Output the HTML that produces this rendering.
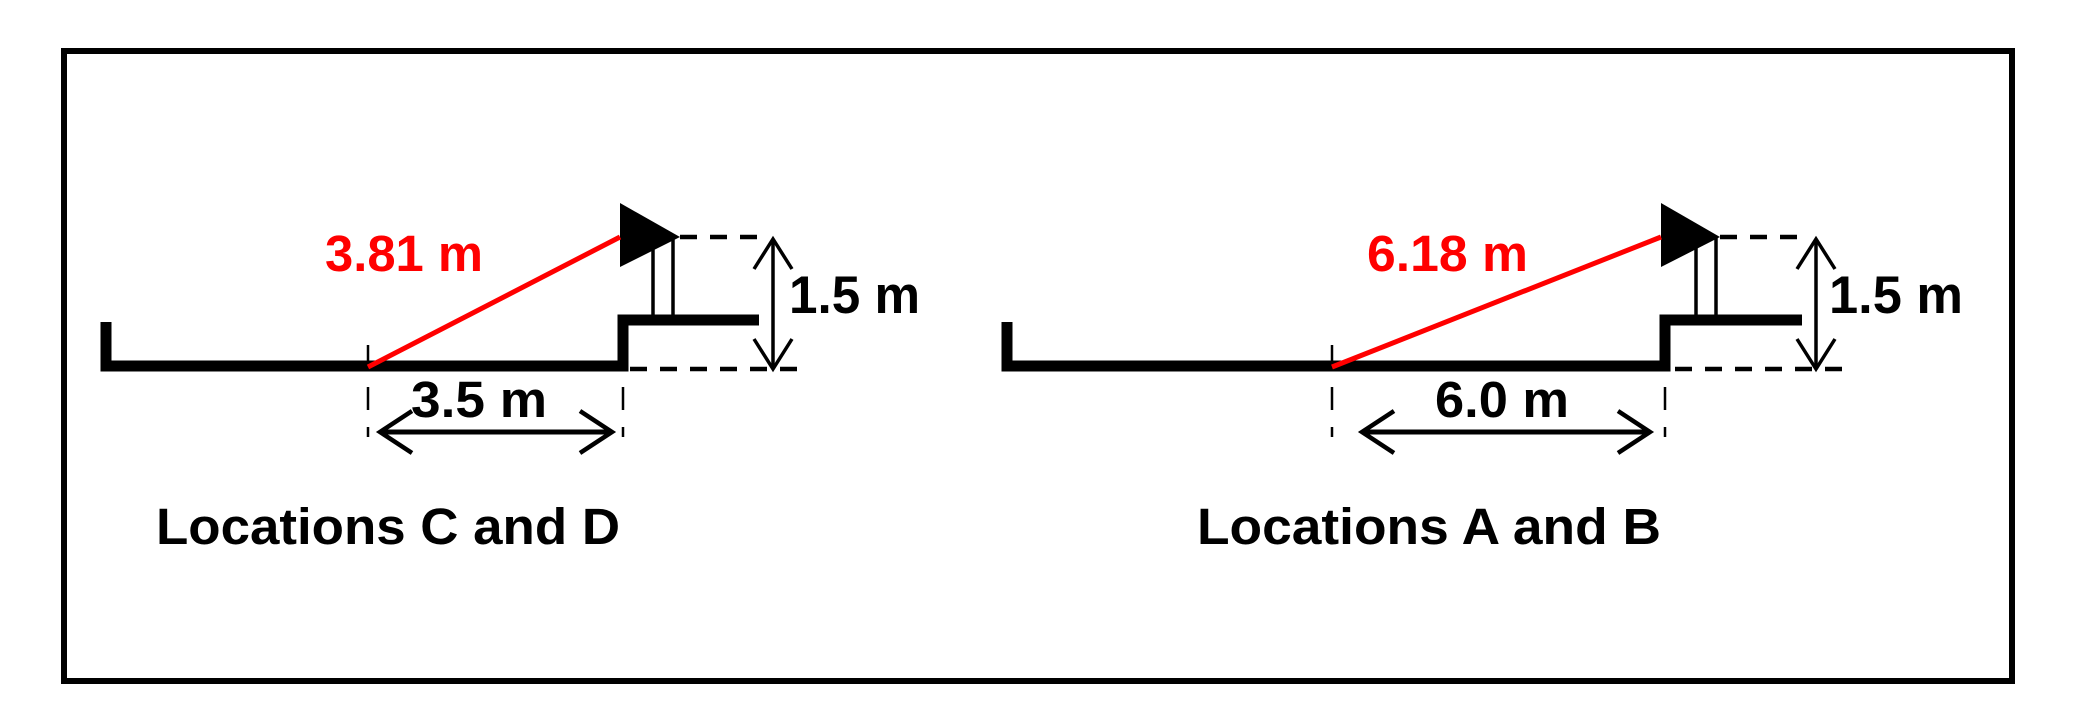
<!DOCTYPE html>
<html><head><style>html,body{margin:0;padding:0;background:#fff}svg{display:block}</style></head><body>
<svg width="2075" height="721" viewBox="0 0 2075 721" xmlns="http://www.w3.org/2000/svg" font-family="Liberation Sans, Arial, sans-serif" font-weight="bold">
<rect x="64" y="51" width="1948" height="630" fill="none" stroke="#000" stroke-width="6"/>
<g stroke="#000" fill="none">
<!-- left panel -->
<polyline points="106,322 106,366 623,366 623,320 759,320" stroke-width="11"/>
<line x1="653" y1="238" x2="653" y2="320" stroke-width="3.5"/>
<line x1="673" y1="238" x2="673" y2="320" stroke-width="3.5"/>
<line x1="368" y1="345" x2="368" y2="366" stroke-width="2.5"/>
<line x1="680" y1="237" x2="763" y2="237" stroke-width="4.5" stroke-dasharray="17,13"/>
<line x1="630" y1="369" x2="809" y2="369" stroke-width="4.5" stroke-dasharray="17,13"/>
<line x1="773" y1="239" x2="773" y2="369" stroke-width="3.5"/>
<polyline points="754,269 773,239 792,269" stroke-width="3.5"/>
<polyline points="754,339 773,369 792,339" stroke-width="3.5"/>
<line x1="368" y1="387" x2="368" y2="437" stroke-width="2.5" stroke-dasharray="23,17"/>
<line x1="623" y1="387" x2="623" y2="437" stroke-width="2.5" stroke-dasharray="23,17"/>
<line x1="380" y1="432" x2="612" y2="432" stroke-width="5"/>
<polyline points="412,411 380,432 412,453" stroke-width="4.5"/>
<polyline points="580,411 612,432 580,453" stroke-width="4.5"/>
<!-- right panel -->
<polyline points="1007,322 1007,366 1665,366 1665,320 1802,320" stroke-width="11"/>
<line x1="1696" y1="238" x2="1696" y2="320" stroke-width="3.5"/>
<line x1="1716" y1="238" x2="1716" y2="320" stroke-width="3.5"/>
<line x1="1332" y1="345" x2="1332" y2="366" stroke-width="2.5"/>
<line x1="1720" y1="237" x2="1805" y2="237" stroke-width="4.5" stroke-dasharray="17,13"/>
<line x1="1675" y1="369" x2="1850" y2="369" stroke-width="4.5" stroke-dasharray="17,13"/>
<line x1="1816" y1="239" x2="1816" y2="369" stroke-width="3.5"/>
<polyline points="1797,269 1816,239 1835,269" stroke-width="3.5"/>
<polyline points="1797,339 1816,369 1835,339" stroke-width="3.5"/>
<line x1="1332" y1="387" x2="1332" y2="437" stroke-width="2.5" stroke-dasharray="23,17"/>
<line x1="1665" y1="387" x2="1665" y2="437" stroke-width="2.5" stroke-dasharray="23,17"/>
<line x1="1362" y1="432" x2="1650" y2="432" stroke-width="5"/>
<polyline points="1394,411 1362,432 1394,453" stroke-width="4.5"/>
<polyline points="1618,411 1650,432 1618,453" stroke-width="4.5"/>
</g>
<polygon points="620,203 620,267 680,237" fill="#000"/>
<polygon points="1661,203 1661,267 1720,237" fill="#000"/>
<line x1="368" y1="367" x2="620" y2="237" stroke="#f00" stroke-width="5"/>
<line x1="1332" y1="367" x2="1661" y2="237" stroke="#f00" stroke-width="5"/>
<g font-size="51">
<text x="325" y="271" fill="#f00" textLength="158" lengthAdjust="spacingAndGlyphs">3.81 m</text>
<text x="789" y="313" fill="#000" font-size="53" textLength="131" lengthAdjust="spacingAndGlyphs">1.5 m</text>
<text x="411" y="417" fill="#000" textLength="136" lengthAdjust="spacingAndGlyphs">3.5 m</text>
<text x="156" y="544" fill="#000" textLength="464" lengthAdjust="spacingAndGlyphs">Locations C and D</text>
<text x="1367" y="271" fill="#f00" textLength="161" lengthAdjust="spacingAndGlyphs">6.18 m</text>
<text x="1829" y="313" fill="#000" font-size="53" textLength="134" lengthAdjust="spacingAndGlyphs">1.5 m</text>
<text x="1435" y="417" fill="#000" textLength="134" lengthAdjust="spacingAndGlyphs">6.0 m</text>
<text x="1197" y="544" fill="#000" textLength="464" lengthAdjust="spacingAndGlyphs">Locations A and B</text>
</g>
</svg>
</body></html>
